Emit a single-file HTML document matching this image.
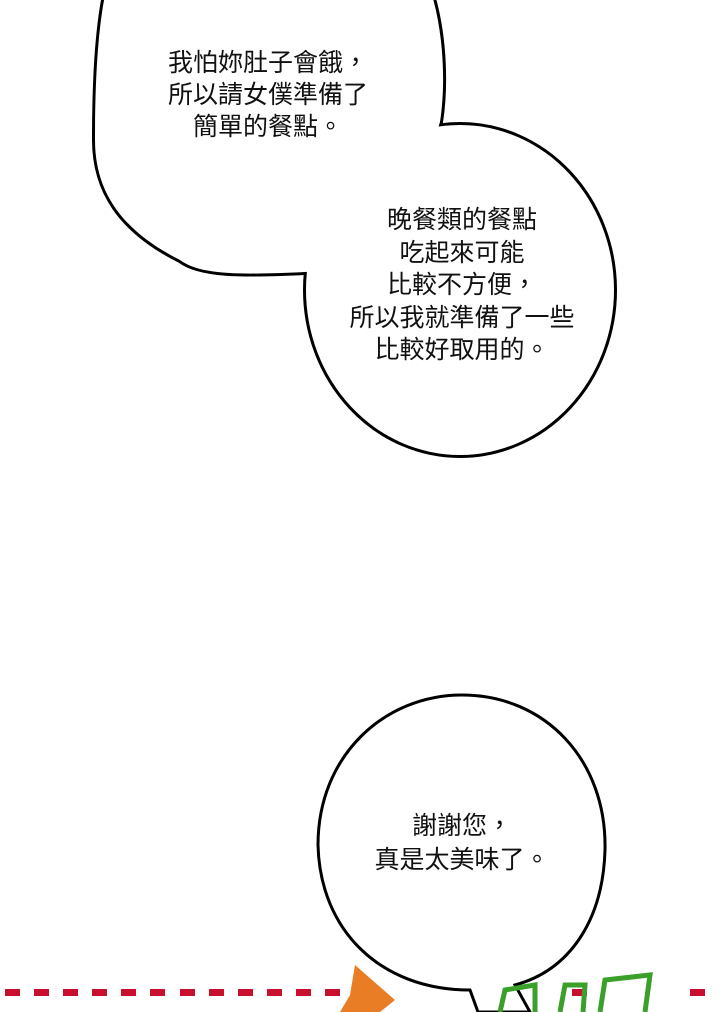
<!DOCTYPE html>
<html><head><meta charset="utf-8"><style>
html,body{margin:0;padding:0;background:#fff;}
body{width:720px;height:1012px;position:relative;overflow:hidden;}
.t{position:absolute;font-family:"Liberation Sans","Noto Sans CJK TC",sans-serif;font-size:25px;line-height:32px;text-align:center;color:#111;white-space:nowrap;}
</style></head><body>
<svg width="720" height="1012" style="position:absolute;left:0;top:0">
<g fill="none" stroke="#000" stroke-width="6">
<path d="M105,-5 L432,-5 C445,40 445,90 440,122 C400,250 350,270 305,272 C240,275 200,275 180,260 C120,230 95,190 95,140 C95,80 98,30 105,-5 Z"/>
<ellipse cx="460" cy="290" rx="154" ry="165"/>
</g>
<g fill="#fff">
<path d="M105,-5 L432,-5 C445,40 445,90 440,122 C400,250 350,270 305,272 C240,275 200,275 180,260 C120,230 95,190 95,140 C95,80 98,30 105,-5 Z"/>
<ellipse cx="460" cy="290" rx="154" ry="165"/>
</g>
<g fill="#c8102e">
<rect x="5" y="989" width="15" height="7"/><rect x="34" y="989" width="15" height="7"/><rect x="63" y="989" width="15" height="7"/><rect x="92" y="989" width="15" height="7"/><rect x="121" y="989" width="15" height="7"/><rect x="150" y="989" width="15" height="7"/><rect x="180" y="989" width="15" height="7"/><rect x="209" y="989" width="15" height="7"/><rect x="238" y="989" width="15" height="7"/><rect x="267" y="989" width="15" height="7"/><rect x="296" y="989" width="15" height="7"/><rect x="325" y="989" width="15" height="7"/><rect x="572" y="989" width="15" height="7"/><rect x="690" y="989" width="15" height="7"/>
</g>
<polygon points="355,965 395,1000 380,1012 340,1012 350,995" fill="#e87d26"/>
<path d="M470,990 C380,990 320,930 318,845 C318,755 385,695 462,695 C545,695 607,760 605,850 C603,920 570,970 515,985 L530,1012 L478,1012 Z" fill="#fff" stroke="#000" stroke-width="3"/>
<g fill="none" stroke="#3aa02a" stroke-width="5">
<path d="M500,1012 L505,990 L535,985 L535,1012"/>
<path d="M560,1012 L565,985 L585,985 L583,1012"/>
<path d="M600,1012 L605,980 L650,975 L645,1012"/>
</g>
</svg>
<div class="t" style="left:118px;top:47px;width:300px">我怕妳肚子會餓，<br>所以請女僕準備了<br>簡單的餐點。</div>
<div class="t" style="left:312px;top:204px;width:300px;line-height:32.5px">晚餐類的餐點<br>吃起來可能<br>比較不方便，<br>所以我就準備了一些<br>比較好取用的。</div>
<div class="t" style="left:312px;top:809px;width:300px;line-height:34px">謝謝您，<br>真是太美味了。</div>
</body></html>
